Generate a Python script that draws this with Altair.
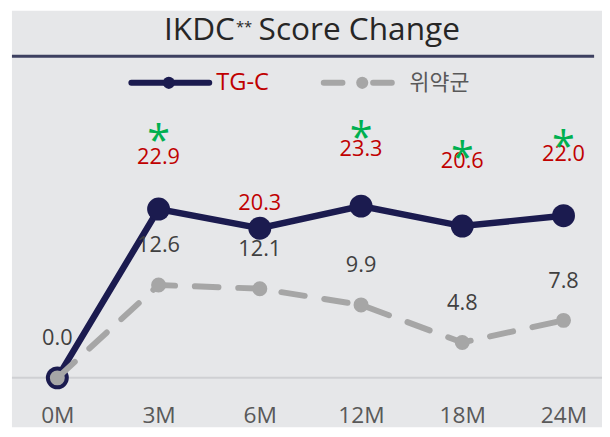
import altair as alt
import pandas as pd

# ---- data ----
months = ["0M", "3M", "6M", "12M", "18M", "24M"]
tgc_values = [0.0, 22.9, 20.3, 23.3, 20.6, 22.0]
placebo_values = [0.0, 12.6, 12.1, 9.9, 4.8, 7.8]
significant = [False, True, False, True, True, True]
tgc_label_shown = [False, True, True, True, True, True]
series_names = ["TG-C", "위약군"]

# ---- style ----
W, H = 598, 372
YMAX = 49.8
PPU = H / YMAX
X0, STEP = 46.0, 102.6          # pixel position of first category, spacing
tgc_label_dy = [0, -53, -25, -58, -66, -62]  # pixel offsets of red labels
FONT = "Open Sans, Noto Sans CJK KR, sans-serif"
BG = "#e6e7e9"
NAVY = "#1b1b4f"
GRAY = "#a6a6a6"
RED = "#c00000"
GREEN = "#00b050"
TXT = "#404040"

idx = list(range(len(months)))
tgc_df = pd.DataFrame({
    "i": idx, "month": months, "value": tgc_values,
    "sig": significant, "show": tgc_label_shown, "dy": tgc_label_dy,
})
tgc_df["label_y"] = tgc_df["value"] + (-tgc_df["dy"]) / PPU
pl_df = pd.DataFrame({"i": idx, "month": months, "value": placebo_values})
zero_df = pd.DataFrame({"value": [0.0]})

yscale = alt.Scale(domain=[0, YMAX], nice=False, zero=False)
xscale = alt.Scale(domain=[-X0 / STEP, (W - X0) / STEP], nice=False, zero=False)
label_expr = "[" + ",".join("'%s'" % m for m in months) + "][datum.value]"
x_axis = alt.X(
    "i:Q", scale=xscale,
    axis=alt.Axis(title=None, values=idx, labelExpr=label_expr, labelAngle=0,
                  labelFont=FONT, labelFontSize=23, labelColor="#595959",
                  ticks=False, domain=False, grid=False, labelPadding=38,
                  labelBaseline="middle", labelFlush=False, labelOverlap=False,
                  zindex=1),
)
y_enc = alt.Y("value:Q", scale=yscale, axis=None)

one = pd.DataFrame({"a": [0]})

bg = alt.Chart(one).mark_rect(color=BG).encode(
    x=alt.value(0), x2=alt.value(W), y=alt.value(0), y2=alt.value(422))

title_line = alt.Chart(one).mark_rule(color="#3d4060", strokeWidth=3).encode(
    x=alt.value(0), x2=alt.value(590), y=alt.value(46))

t1 = alt.Chart(one).mark_text(text="IKDC", font=FONT, fontSize=32, color="#262626",
                              align="right", baseline="alphabetic").encode(
    x=alt.value(226), y=alt.value(30))
t2 = alt.Chart(one).mark_text(text="**", font=FONT, fontSize=15, color="#262626",
                              align="left", baseline="alphabetic").encode(
    x=alt.value(227), y=alt.value(21))
t3 = alt.Chart(one).mark_text(text="Score Change", font=FONT, fontSize=32, color="#262626",
                              align="left", baseline="alphabetic").encode(
    x=alt.value(250), y=alt.value(30))

# legend (drawn by hand)
leg_line1 = alt.Chart(one).mark_rule(color=NAVY, strokeWidth=6, strokeCap="round").encode(
    x=alt.value(121), x2=alt.value(200), y=alt.value(73))
leg_dot1 = alt.Chart(one).mark_circle(color=NAVY, size=150, opacity=1).encode(
    x=alt.value(159), y=alt.value(73))
leg_txt1 = alt.Chart(one).mark_text(text=series_names[0], font=FONT, fontSize=24, color=RED,
                                    align="left", baseline="middle").encode(
    x=alt.value(207), y=alt.value(73))
leg_line2 = alt.Chart(one).mark_rule(color=GRAY, strokeWidth=6, strokeCap="round",
                                     strokeDash=[19, 31]).encode(
    x=alt.value(316), x2=alt.value(385), y=alt.value(73))
leg_dot2 = alt.Chart(one).mark_circle(color=GRAY, size=150, opacity=1).encode(
    x=alt.value(355), y=alt.value(73))
leg_txt2 = alt.Chart(one).mark_text(text=series_names[1], font=FONT, fontSize=22, color="#595959",
                                    align="left", baseline="middle").encode(
    x=alt.value(403), y=alt.value(73))

baseline = alt.Chart(zero_df).mark_rule(color="#cfd0d3", strokeWidth=2).encode(y=y_enc)

tgc_base = alt.Chart(tgc_df)
tgc_line = tgc_base.mark_line(color=NAVY, strokeWidth=6.5).encode(x=x_axis, y=y_enc)
tgc_pts = tgc_base.mark_circle(color=NAVY, size=540, opacity=1).encode(x=x_axis, y=y_enc)

pl_base = alt.Chart(pl_df)
pl_line = pl_base.mark_line(color=GRAY, strokeWidth=6, strokeDash=[24, 20],
                            strokeCap="round").encode(x=x_axis, y=y_enc)
pl_pts = pl_base.mark_circle(color=GRAY, size=230, opacity=1).encode(x=x_axis, y=y_enc)

pl_labels = pl_base.mark_text(font=FONT, fontSize=22, color=TXT, dy=-40,
                              baseline="middle").encode(
    x=x_axis, y=y_enc, text=alt.Text("value:Q", format=".1f"))

tgc_labels = tgc_base.transform_filter("datum.show").mark_text(
    font=FONT, fontSize=22, color=RED, baseline="middle").encode(
    x=x_axis, y=alt.Y("label_y:Q", scale=yscale, axis=None),
    text=alt.Text("value:Q", format=".1f"))

stars = tgc_base.transform_filter("datum.sig").mark_text(
    text="*", font=FONT, fontSize=42, color=GREEN, baseline="alphabetic", dy=-55).encode(
    x=x_axis, y=y_enc)

chart = alt.layer(
    bg, title_line, t1, t2, t3,
    leg_line1, leg_dot1, leg_txt1, leg_line2, leg_dot2, leg_txt2,
    baseline, tgc_line, tgc_pts, pl_line, pl_pts, pl_labels, tgc_labels, stars,
).properties(
    width=W, height=H,
    autosize=alt.AutoSizeParams(type="none"),
    padding={"left": 4, "top": 0, "right": 0, "bottom": 50},
).configure_view(strokeWidth=0)

chart.save("out.html", embed_options={"renderer": "svg", "actions": False})
